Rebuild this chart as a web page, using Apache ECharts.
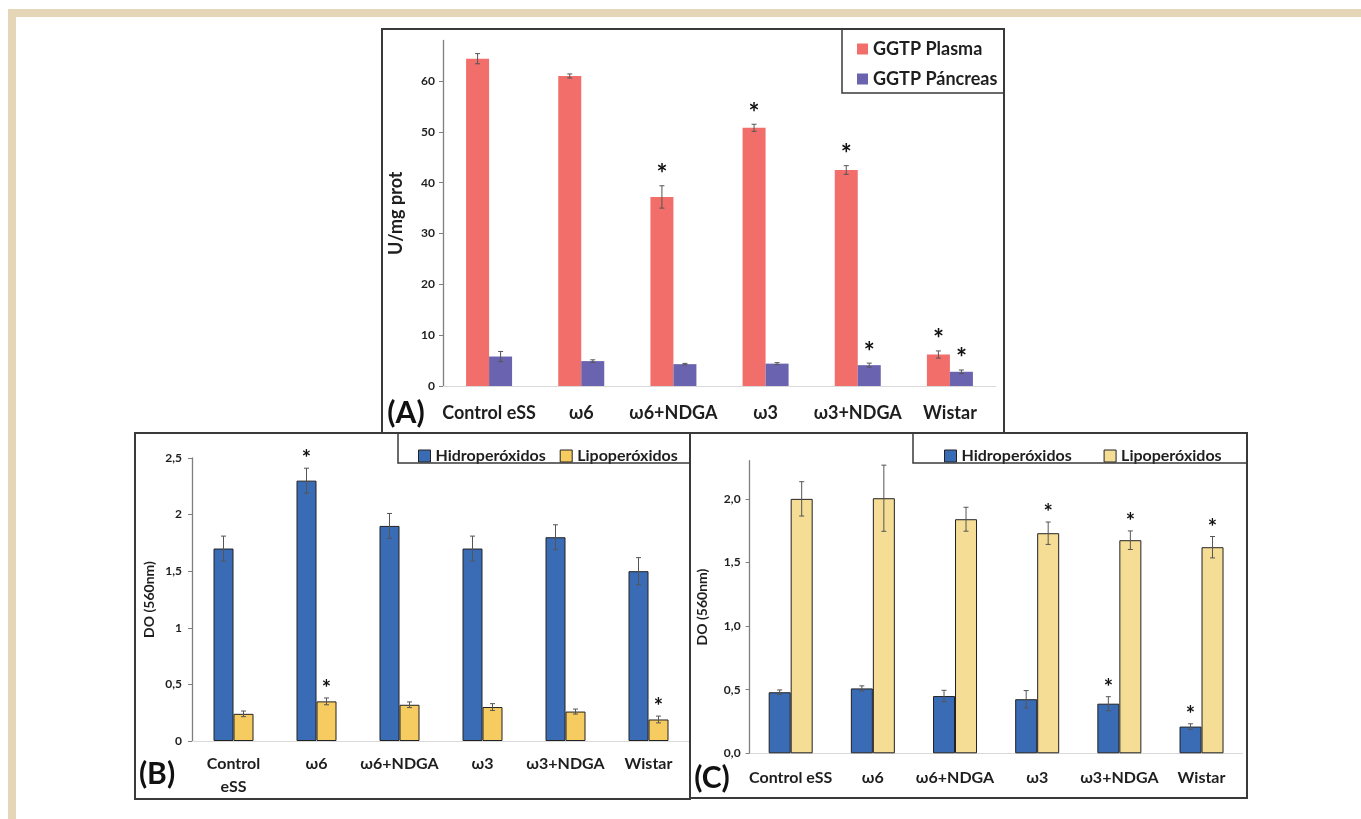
<!DOCTYPE html>
<html>
<head>
<meta charset="utf-8">
<script src="https://cdn.jsdelivr.net/npm/echarts@6/dist/echarts.min.js"></script>
<style>
html,body{margin:0;padding:0;background:#fff;}
#chart{width:1361px;height:819px;}
</style>
</head>
<body>
<div id="chart"></div>
<script>
// ---------- DATA ----------
const categories = ['Control eSS', 'ω6', 'ω6+NDGA', 'ω3', 'ω3+NDGA', 'Wistar'];
const categoriesB = ['Control\neSS', 'ω6', 'ω6+NDGA', 'ω3', 'ω3+NDGA', 'Wistar'];

// Panel A
const ggtpPlasma = [64.4, 61.0, 37.2, 50.8, 42.5, 6.2];
const ggtpPlasmaErr = [1.0, 0.4, 2.2, 0.7, 0.85, 0.7];
const ggtpPlasmaSig = [0, 0, 1, 1, 1, 1];
const ggtpPancreas = [5.8, 4.9, 4.3, 4.4, 4.1, 2.8];
const ggtpPancreasErr = [1.0, 0.25, 0.15, 0.2, 0.4, 0.35];
const ggtpPancreasSig = [0, 0, 0, 0, 1, 1];
const yTicksA = ['0', '10', '20', '30', '40', '50', '60'];

// Panel B
const hidroB = [1.70, 2.30, 1.90, 1.70, 1.80, 1.50];
const hidroBErr = [0.11, 0.11, 0.11, 0.11, 0.11, 0.12];
const hidroBSig = [0, 1, 0, 0, 0, 0];
const lipoB = [0.24, 0.35, 0.32, 0.30, 0.26, 0.19];
const lipoBErr = [0.025, 0.03, 0.025, 0.03, 0.022, 0.03];
const lipoBSig = [0, 1, 0, 0, 0, 1];
const yTicksB = ['0', '0,5', '1', '1,5', '2', '2,5'];

// Panel C
const hidroC = [0.48, 0.51, 0.45, 0.425, 0.39, 0.21];
const hidroCErr = [0.018, 0.02, 0.045, 0.068, 0.055, 0.022];
const hidroCSig = [0, 0, 0, 0, 1, 1];
const lipoC = [2.00, 2.005, 1.84, 1.73, 1.675, 1.62];
const lipoCErr = [0.135, 0.26, 0.094, 0.088, 0.073, 0.084];
const lipoCSig = [0, 0, 0, 1, 1, 1];
const yTicksC = ['0,0', '0,5', '1,0', '1,5', '2,0'];

// ---------- STYLE ----------
const FONT = 'Lato';
const TXT = '#1e1e1e';

function errSeries(name, gridIdx, vals, errs, sig, offset, starSize, starGap) {
  const data = vals.map((v, i) => [i, v, errs[i], sig[i]]);
  return {
    type: 'custom', name: name + '_err', xAxisIndex: gridIdx, yAxisIndex: gridIdx,
    data: data, encode: {x: 0, y: 1}, z: 5, silent: true,
    renderItem: function (params, api) {
      const i = api.value(0), v = api.value(1), e = api.value(2), s = api.value(3);
      const x = api.coord([i, 0])[0] + offset;
      const yt = api.coord([i, v + e])[1];
      const yb = api.coord([i, v - e])[1];
      const st = {stroke: '#555', lineWidth: 1};
      const ch = [
        {type: 'line', shape: {x1: x, y1: yt, x2: x, y2: yb}, style: st},
        {type: 'line', shape: {x1: x - 2.5, y1: yt, x2: x + 2.5, y2: yt}, style: st},
        {type: 'line', shape: {x1: x - 2.5, y1: yb, x2: x + 2.5, y2: yb}, style: st}
      ];
      if (s) {
        ch.push({type: 'text', x: x, y: yt - starGap, style: {
          text: '*', fontSize: starSize, fontWeight: 'bold', fontFamily: FONT, fill: '#111',
          align: 'center', verticalAlign: 'middle'}});
      }
      return {type: 'group', children: ch};
    }
  };
}

function xAxisCfg(gridIdx, cats, fontSize, margin, lineHeight) {
  return {
    type: 'category', gridIndex: gridIdx, data: cats,
    axisLine: {show: true, lineStyle: {color: '#d9d9d9', width: 1}},
    axisTick: {show: false},
    axisLabel: {interval: 0, margin: margin, fontFamily: FONT, fontWeight: 'bold', fontSize: fontSize, color: TXT, lineHeight: lineHeight}
  };
}
function yAxisCfg(gridIdx, max, interval, labels, name, nameGap, nameSize, fontSize, margin, showMax) {
  return {
    type: 'value', gridIndex: gridIdx, min: 0, max: max, interval: interval,
    name: name, nameLocation: 'middle', nameGap: nameGap,
    nameTextStyle: {fontFamily: FONT, fontWeight: 'bold', fontSize: nameSize, color: TXT},
    splitLine: {show: false},
    axisLine: {show: true, lineStyle: {color: '#7f7f7f', width: 1.3}},
    axisTick: {show: true, length: 4, lineStyle: {color: '#7f7f7f'}},
    axisLabel: {showMaxLabel: showMax, margin: margin, fontFamily: FONT, fontWeight: 'bold', fontSize: fontSize, color: TXT,
      formatter: function (v) {
        const idx = Math.round(v / interval);
        return labels[idx] !== undefined ? labels[idx] : '';
      }}
  };
}

const chart = echarts.init(document.getElementById('chart'), null, {renderer: 'canvas'});

const bw = {A: 23, B: 20, C: 22};
const colors = {plasma: '#F26E6B', pancreas: '#6A63AF', blue: '#3A6CB5', yellowB: '#F6CB60', yellowC: '#F5DD96'};

const option = {
  animation: false,
  backgroundColor: '#ffffff',
  textStyle: {fontFamily: FONT},
  grid: [
    {left: 443, top: 40.4, width: 553, height: 345.6},
    {left: 192, top: 458, width: 498, height: 283},
    {left: 749.6, top: 460.7, width: 493, height: 292.6}
  ],
  xAxis: [
    xAxisCfg(0, categories, 18, 16, 22),
    xAxisCfg(1, categoriesB, 16, 11, 23),
    xAxisCfg(2, categories, 16, 15, 19)
  ],
  yAxis: [
    yAxisCfg(0, 68, 10, yTicksA, 'U/mg prot', 38, 18, 12, 8, false),
    yAxisCfg(1, 2.5, 0.5, yTicksB, 'DO (560nm)', 36, 14, 12, 10, true),
    yAxisCfg(2, 2.3, 0.5, yTicksC, 'DO (560nm)', 40, 14, 12, 9, false)
  ],
  legend: [
    {orient: 'vertical', left: 852, top: 33, itemWidth: 11, itemHeight: 11, itemGap: 8, icon: 'rect',
      textStyle: {fontFamily: FONT, fontWeight: 'bold', fontSize: 18, color: TXT, lineHeight: 22},
      data: [{name: 'GGTP Plasma', itemStyle: {color: colors.plasma}}, {name: 'GGTP Páncreas', itemStyle: {color: colors.pancreas}}]},
    {orient: 'horizontal', left: 413, top: 440, itemWidth: 12, itemHeight: 12, itemGap: 14, icon: 'rect',
      textStyle: {fontFamily: FONT, fontWeight: 'bold', fontSize: 16, color: TXT, lineHeight: 22},
      data: [{name: 'Hidroperóxidos', itemStyle: {color: colors.blue, borderColor: '#222', borderWidth: 1}},
             {name: 'Lipoperóxidos', itemStyle: {color: colors.yellowB, borderColor: '#222', borderWidth: 1}}]},
    {orient: 'horizontal', left: 939, top: 440, itemWidth: 12, itemHeight: 12, itemGap: 28, icon: 'rect',
      textStyle: {fontFamily: FONT, fontWeight: 'bold', fontSize: 16, color: TXT, lineHeight: 22},
      data: [{name: 'Hidroperóxidos ', itemStyle: {color: colors.blue, borderColor: '#222', borderWidth: 1}},
             {name: 'Lipoperóxidos ', itemStyle: {color: colors.yellowC, borderColor: '#222', borderWidth: 1}}]}
  ],
  graphic: [
    // beige frame
    {type: 'rect', shape: {x: 8, y: 9, width: 1353, height: 8}, style: {fill: '#E5D6B7'}, silent: true},
    {type: 'rect', shape: {x: 8, y: 9, width: 8, height: 810}, style: {fill: '#E5D6B7'}, silent: true},
    // panel frames
    {type: 'rect', shape: {x: 382, y: 29, width: 622, height: 404}, style: {fill: 'none', stroke: '#3a3a3a', lineWidth: 2}, z: 10, silent: true},
    {type: 'rect', shape: {x: 135, y: 433, width: 555, height: 366}, style: {fill: 'none', stroke: '#3a3a3a', lineWidth: 2}, z: 10, silent: true},
    {type: 'rect', shape: {x: 690, y: 433, width: 557, height: 365}, style: {fill: 'none', stroke: '#3a3a3a', lineWidth: 2}, z: 10, silent: true},
    // legend boxes
    {type: 'rect', shape: {x: 842, y: 29, width: 162, height: 64}, style: {fill: 'none', stroke: '#3a3a3a', lineWidth: 1.5}, z: 10, silent: true},
    {type: 'rect', shape: {x: 398, y: 433, width: 292, height: 30}, style: {fill: 'none', stroke: '#3a3a3a', lineWidth: 1.5}, z: 10, silent: true},
    {type: 'rect', shape: {x: 913, y: 433, width: 334, height: 30}, style: {fill: 'none', stroke: '#3a3a3a', lineWidth: 1.5}, z: 10, silent: true},
    // panel letters
    {type: 'text', x: 406, y: 413, style: {text: '(A)', fontFamily: FONT, fontWeight: 'bold', fontSize: 30, fill: '#111', align: 'center', verticalAlign: 'middle'}, z: 10},
    {type: 'text', x: 157, y: 774, style: {text: '(B)', fontFamily: FONT, fontWeight: 'bold', fontSize: 30, fill: '#111', align: 'center', verticalAlign: 'middle'}, z: 10},
    {type: 'text', x: 712, y: 778, style: {text: '(C)', fontFamily: FONT, fontWeight: 'bold', fontSize: 30, fill: '#111', align: 'center', verticalAlign: 'middle'}, z: 10}
  ],
  series: [
    {type: 'bar', name: 'GGTP Plasma', xAxisIndex: 0, yAxisIndex: 0, data: ggtpPlasma, barWidth: bw.A, barGap: '0%',
      itemStyle: {color: colors.plasma}},
    {type: 'bar', name: 'GGTP Páncreas', xAxisIndex: 0, yAxisIndex: 0, data: ggtpPancreas, barWidth: bw.A, barGap: '0%',
      itemStyle: {color: colors.pancreas}},
    errSeries('GGTP Plasma', 0, ggtpPlasma, ggtpPlasmaErr, ggtpPlasmaSig, -bw.A / 2, 26, 11),
    errSeries('GGTP Páncreas', 0, ggtpPancreas, ggtpPancreasErr, ggtpPancreasSig, bw.A / 2, 26, 11),

    {type: 'bar', name: 'Hidroperóxidos', xAxisIndex: 1, yAxisIndex: 1, data: hidroB, barWidth: bw.B, barGap: '0%',
      itemStyle: {color: colors.blue, borderColor: '#222', borderWidth: 1}},
    {type: 'bar', name: 'Lipoperóxidos', xAxisIndex: 1, yAxisIndex: 1, data: lipoB, barWidth: bw.B, barGap: '0%',
      itemStyle: {color: colors.yellowB, borderColor: '#222', borderWidth: 1}},
    errSeries('Hidroperóxidos', 1, hidroB, hidroBErr, hidroBSig, -bw.B / 2, 22, 9),
    errSeries('Lipoperóxidos', 1, lipoB, lipoBErr, lipoBSig, bw.B / 2, 22, 9),

    {type: 'bar', name: 'Hidroperóxidos ', xAxisIndex: 2, yAxisIndex: 2, data: hidroC, barWidth: bw.C, barGap: '0%',
      itemStyle: {color: colors.blue, borderColor: '#222', borderWidth: 1}},
    {type: 'bar', name: 'Lipoperóxidos ', xAxisIndex: 2, yAxisIndex: 2, data: lipoC, barWidth: bw.C, barGap: '0%',
      itemStyle: {color: colors.yellowC, borderColor: '#222', borderWidth: 1}},
    errSeries('Hidroperóxidos C', 2, hidroC, hidroCErr, hidroCSig, -bw.C / 2, 22, 9),
    errSeries('Lipoperóxidos C', 2, lipoC, lipoCErr, lipoCSig, bw.C / 2, 22, 9)
  ]
};
chart.setOption(option);
</script>
</body>
</html>
